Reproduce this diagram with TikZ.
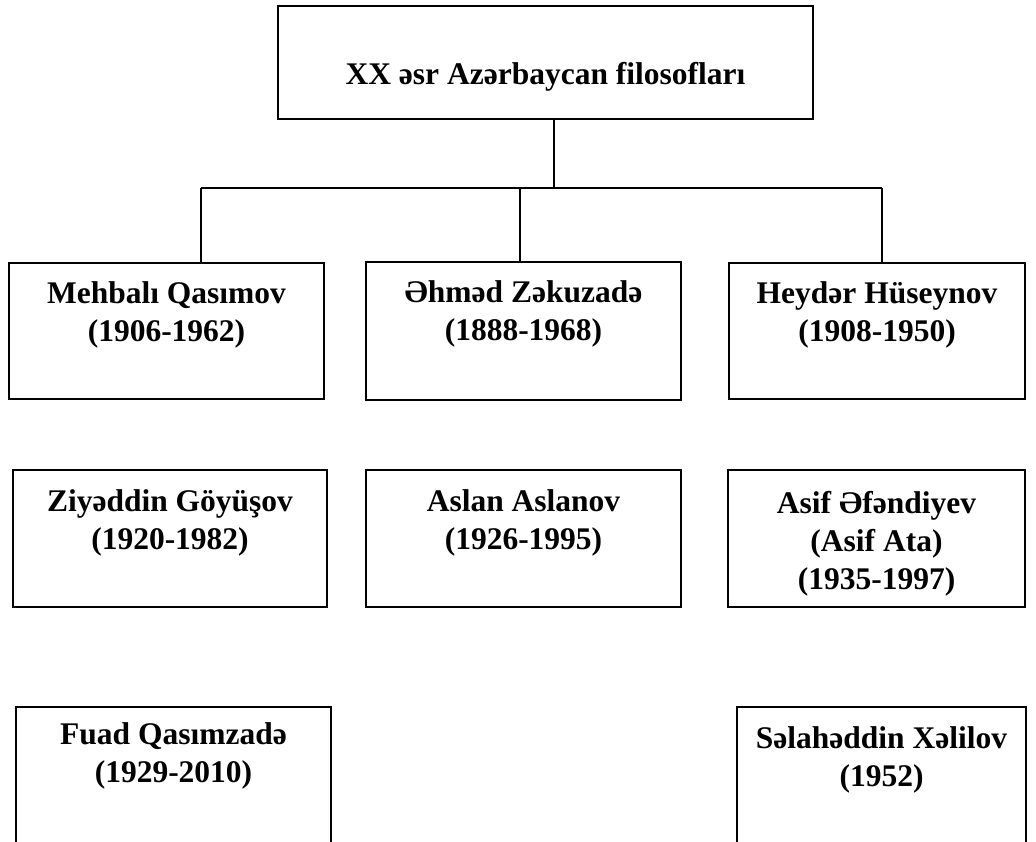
\documentclass[tikz,border=0pt]{standalone}
\usepackage{fontspec}
\setmainfont{Liberation Serif}
\tikzset{
    box/.style={draw, line width=2pt, inner sep=0pt, anchor=north west, align=center,
        font=\fontsize{31.5}{38}\selectfont\bfseries},
    link/.style={line width=2pt},
}
\begin{document}
\begin{tikzpicture}[x=1pt, y=-1pt]
    \useasboundingbox (0,0) rectangle (1036,841);
    \clip (0,0) rectangle (1036,841);

    % 标题
    \node[box, minimum width=535pt, text height=78pt, text depth=35pt] (title) at (277,5) {XX əsr Azərbaycan filosofları};

    % 第一行
    \node[box, minimum width=315pt, text height=78pt, text depth=58pt] (mq) at (8,262) {Mehbalı Qasımov\\(1906-1962)};
    \node[box, minimum width=315pt, text height=78pt, text depth=60pt] (az) at (365,261) {Əhməd Zəkuzadə\\(1888-1968)};
    \node[box, minimum width=296pt, text height=78pt, text depth=58pt] (hh) at (728,262) {Heydər Hüseynov\\(1908-1950)};

    % 第二行
    \node[box, minimum width=314pt, text height=79pt, text depth=58pt] (zg) at (12,469) {Ziyəddin Göyüşov\\(1920-1982)};
    \node[box, minimum width=315pt, text height=79pt, text depth=58pt] (aa) at (365,469) {Aslan Aslanov\\(1926-1995)};
    \node[box, minimum width=297pt, text height=119pt, text depth=18pt] (ae) at (727,469) {Asif Əfəndiyev\\(Asif Ata)\\(1935-1997)};

    % 第三行
    \node[box, minimum width=315pt, text height=75pt, text depth=200pt] (fq) at (15,706) {Fuad Qasımzadə\\(1929-2010)};
    \node[box, minimum width=289pt, text height=79pt, text depth=200pt] (sx) at (736,706) {Səlahəddin Xəlilov\\(1952)};

    % 连线
    \coordinate (hub) at (554,188);
    \coordinate (bl) at (201,188);
    \coordinate (bm) at (520,188);
    \coordinate (br) at (882,188);
    \draw[link] (title.south -| hub) -- (hub);
    \draw[link] (bl) -- (br);
    \draw[link] (bl) -- (bl |- mq.north);
    \draw[link] (bm) -- (bm |- az.north);
    \draw[link] (br) -- (br |- hh.north);
\end{tikzpicture}
\end{document}
